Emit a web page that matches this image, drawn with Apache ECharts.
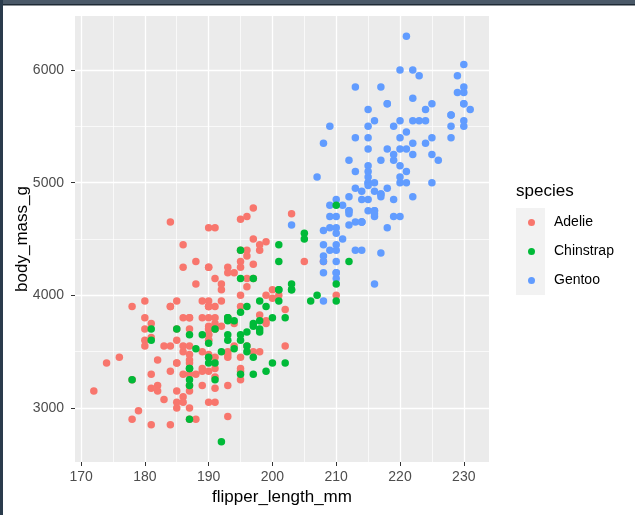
<!DOCTYPE html>
<html><head><meta charset="utf-8">
<script src="https://cdn.jsdelivr.net/npm/echarts@6/dist/echarts.min.js"></script>
<style>html,body{margin:0;padding:0;background:#fff}#c{width:635px;height:515px}</style>
</head><body><div id="c"></div>
<script>
const xTicks = [170, 180, 190, 200, 210, 220, 230];
const xMinor = [175, 185, 195, 205, 215, 225];
const yTicks = [3000, 4000, 5000, 6000];
const yMinor = [3500, 4500, 5500];
const speciesNames = ['Adelie', 'Chinstrap', 'Gentoo'];

const adelieFlipper = [181,186,195,193,190,181,195,193,190,186,180,182,191,198,185,195,197,184,194,174,180,189,185,180,187,183,187,172,180,178,178,188,184,195,196,190,180,181,184,182,195,186,196,185,190,182,179,190,191,186,188,190,200,187,191,186,193,181,194,185,195,185,192,184,192,195,188,190,198,190,190,196,197,190,195,191,184,187,195,189,196,187,193,191,194,190,189,189,190,202,205,185,186,187,208,190,196,178,192,192,203,183,190,193,184,199,190,181,197,198,191,193,197,191,196,188,199,189,189,187,198,176,202,186,199,191,195,191,210,190,197,193,199,187,190,191,200,185,193,187,190,185,190,187,190,186,187,191,191,187,201];
const adelieMass = [3750,3800,3250,3450,3650,3625,4675,3475,4250,3300,3700,3200,3800,4400,3700,3450,4500,3325,4200,3400,3600,3800,3950,3800,3800,3550,3200,3150,3950,3250,3900,3300,3900,3325,4150,3950,3550,3300,4650,3150,3900,3100,4400,3000,4600,3425,2975,3450,4150,3500,4300,3450,4050,2900,3700,3550,3800,2850,3750,3150,4400,3600,4050,2850,3950,3350,4100,3050,4450,3600,3900,3550,4150,3700,4250,3700,3900,3550,4000,3200,4700,3800,4200,3350,3550,3800,3500,3950,3600,3550,4300,3400,4450,3300,4300,3700,4350,2900,4100,3725,4725,3075,4250,2925,3550,3750,3900,3175,4775,3825,4600,3200,4275,3900,4075,2900,3775,3350,3325,3150,3500,3450,3875,3050,4000,3275,4300,3050,4000,3325,3500,3500,4475,3425,3900,3175,3975,3400,4250,3400,3475,3050,3725,3000,3650,4250,3475,3450,3750,3700,4000];

const gentooFlipper = [211,230,210,218,215,210,211,219,209,215,214,216,214,213,210,217,210,221,209,222,218,215,213,215,215,215,216,215,210,220,222,209,207,230,220,220,213,219,208,208,208,225,210,216,222,217,210,225,213,215,210,220,210,225,217,220,208,220,208,224,208,221,214,231,219,230,214,229,220,223,216,221,221,217,216,230,209,220,215,223,212,221,212,224,212,228,218,218,212,230,218,228,212,224,214,226,216,222,203,225,219,228,215,228,216,215,210,219,208,209,216,229,213,230,217,230,217,222,214,215,222,212,213];
const gentooMass = [4500,5700,4450,5700,5400,4550,4800,5200,4400,5150,4650,5550,4650,5850,4200,5850,4150,6300,4800,5350,5700,5000,4400,5050,5000,5100,4100,5650,4600,5550,5250,4700,5050,6050,5150,5400,4950,5250,4350,5350,3950,5700,4300,4750,5550,4900,4200,5400,5100,5300,4850,5300,4400,5000,4900,5050,4300,5000,4450,5550,4200,5300,4400,5650,4700,5700,4650,5800,4700,5550,4750,5000,5100,5200,4700,5800,4600,6000,4750,5950,4625,5450,4725,5350,4750,5600,4600,5300,4875,5550,4950,5400,4750,5650,4850,5200,4925,4875,4625,5250,4850,5600,4975,5500,4725,5500,4700,5500,4575,5500,5000,5950,4650,5500,4375,5850,4875,6000,4925,4850,5750,5200,5400];

const chinstrapFlipper = [192,196,193,188,197,198,178,197,195,198,193,194,185,201,190,201,197,181,190,195,181,191,187,193,195,197,200,200,191,205,187,201,187,203,195,199,195,210,192,205,210,187,196,196,196,201,190,212,187,198,199,201,193,203,187,197,191,203,202,194,206,189,195,207,202,193,210,198];
const chinstrapMass = [3500,3900,3650,3525,3725,3950,3250,3750,4150,3700,3800,3775,3700,4050,3575,4050,3300,3700,3450,4400,3600,3400,2900,3800,3300,4150,3400,3800,3700,4550,3200,4300,3350,4100,3600,3900,3850,4800,2700,4500,3950,3650,3550,3500,3675,4450,3400,4300,3250,3675,3325,3950,3600,4050,3350,3450,3250,4050,3800,3525,3950,3650,3650,4000,3400,3775,4100,3775];

const colors = {Adelie: '#F8766D', Chinstrap: '#00BA38', Gentoo: '#619CFF'};
const zip = (a, b) => a.map((v, i) => [v, b[i]]);
const FONT = '"Liberation Sans", Arial, sans-serif';
const plain = v => String(v);

function mkSeries(name, xs, ys) {
  return {
    name, type: 'scatter', data: zip(xs, ys), symbol: 'circle', symbolSize: 7.5,
    itemStyle: {color: colors[name], opacity: 1},
    emphasis: {disabled: true}, xAxisIndex: 0, yAxisIndex: 0
  };
}

const chart = echarts.init(document.getElementById('c'), null, {renderer: 'canvas'});
chart.setOption({
  animation: false,
  backgroundColor: '#ffffff',
  grid: {show: true, backgroundColor: '#EBEBEB', borderWidth: 0,
         left: 75, right: 146, top: 16, bottom: 53,
         containLabel: false, outerBoundsMode: 'none'},
  xAxis: [{
    type: 'value', min: 169.05, max: 233.95, position: 'bottom',
    name: 'flipper_length_mm', nameLocation: 'middle', nameGap: 27, nameMoveOverlap: false,
    nameTextStyle: {fontFamily: FONT, fontSize: 17, color: '#000'},
    axisLine: {show: false},
    axisTick: {show: true, length: 4, customValues: xTicks, lineStyle: {color: '#333', width: 1}},
    axisLabel: {customValues: xTicks, formatter: plain, margin: 8, fontFamily: FONT, fontSize: 14, color: '#4D4D4D'},
    splitLine: {show: true, lineStyle: {color: '#fff', width: 1.3}}
  }, {
    type: 'value', min: 169.05, max: 233.95, position: 'bottom',
    axisLine: {show: false},
    axisTick: {show: false, customValues: xMinor},
    axisLabel: {show: false, customValues: xMinor},
    splitLine: {show: true, lineStyle: {color: '#fff', width: 0.7}}
  }],
  yAxis: [{
    type: 'value', min: 2520, max: 6480, position: 'left',
    name: 'body_mass_g', nameLocation: 'middle', nameGap: 44, nameRotate: 90, nameMoveOverlap: false,
    nameTextStyle: {fontFamily: FONT, fontSize: 17, color: '#000'},
    axisLine: {show: false},
    axisTick: {show: true, length: 4, customValues: yTicks, lineStyle: {color: '#333', width: 1}},
    axisLabel: {customValues: yTicks, formatter: plain, margin: 11, fontFamily: FONT, fontSize: 14, color: '#4D4D4D'},
    splitLine: {show: true, lineStyle: {color: '#fff', width: 1.3}}
  }, {
    type: 'value', min: 2520, max: 6480, position: 'left',
    axisLine: {show: false},
    axisTick: {show: false, customValues: yMinor},
    axisLabel: {show: false, customValues: yMinor},
    splitLine: {show: true, lineStyle: {color: '#fff', width: 0.7}}
  }],
  legend: {
    data: speciesNames, orient: 'vertical', left: 528, top: 208,
    padding: 0, itemGap: 0, itemWidth: 7, itemHeight: 7, icon: 'circle',
    textStyle: {fontFamily: FONT, fontSize: 14, color: '#000', lineHeight: 29, padding: [0, 0, 0, 14]},
    selectedMode: false
  },
  graphic: [
    {type: 'rect', left: 516, top: 208, z: -1, shape: {width: 29, height: 87}, style: {fill: '#F2F2F2'}, silent: true},
    {type: 'text', left: 516, top: 183, style: {text: 'species', font: '17px ' + FONT, fill: '#000'}, silent: true},
    {type: 'rect', left: 0, top: 0, shape: {width: 635, height: 4}, style: {fill: '#4A5968'}, silent: true},
    {type: 'rect', left: 0, top: 4, shape: {width: 635, height: 1.5}, style: {fill: '#1E2A35'}, silent: true},
    {type: 'rect', left: 0, top: 0, shape: {width: 3, height: 515}, style: {fill: '#2A3B4C'}, silent: true}
  ],
  series: [
    mkSeries('Adelie', adelieFlipper, adelieMass),
    mkSeries('Gentoo', gentooFlipper, gentooMass),
    mkSeries('Chinstrap', chinstrapFlipper, chinstrapMass)
  ]
});
</script></body></html>
